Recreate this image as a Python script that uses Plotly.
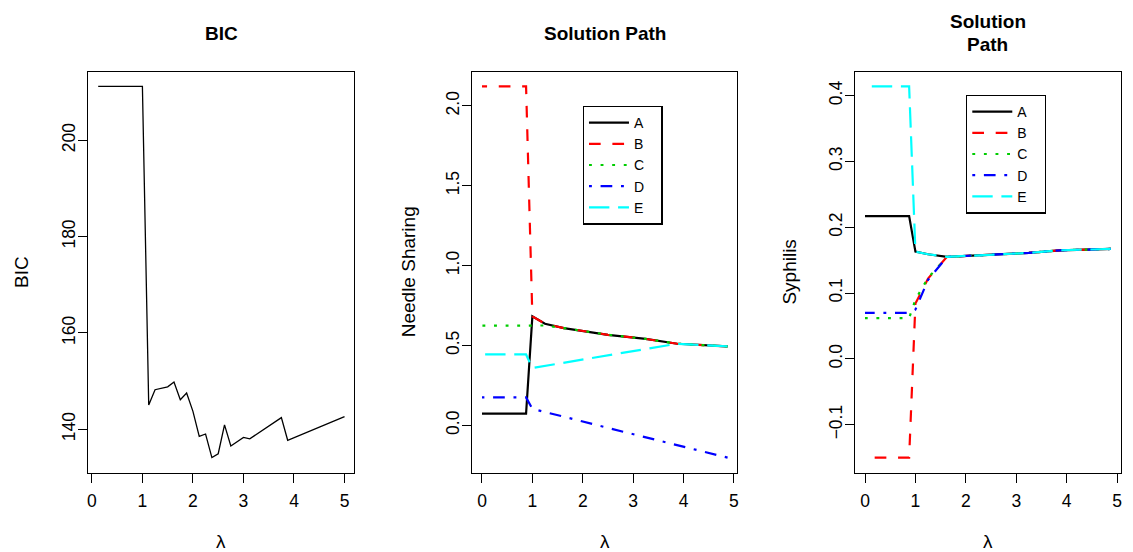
import plotly.graph_objects as go

# ---- BIC along the lambda grid ----
bic_lambda = [0.125, 1.0, 1.125, 1.25, 1.5, 1.625, 1.75, 1.875, 2.0, 2.125,
              2.25, 2.375, 2.5, 2.625, 2.75, 3.0, 3.125, 3.75, 3.875, 5.0]
bic_values = [211.2, 211.2, 145.0, 148.2, 148.8, 149.8, 146.1, 147.5, 143.7, 138.5,
              139.0, 134.1, 134.9, 140.9, 136.5, 138.3, 138.0, 142.4, 137.7, 142.6]

# ---- solution paths (shared lambda grid) ----
path_lambda = [0.0, 0.875, 1.0, 1.25, 1.625, 2.5, 3.25, 3.875, 4.875]
series_names = ["A", "B", "C", "D", "E"]

needle_A = [0.073, 0.073, 0.682, 0.636, 0.609, 0.567, 0.541, 0.511, 0.494]
needle_B = [2.122, 2.122, 0.682, 0.636, 0.609, 0.567, 0.541, 0.511, 0.494]
needle_C = [0.624, 0.624, 0.625, 0.625, 0.609, 0.567, 0.541, 0.511, 0.494]
needle_D = [0.175, 0.175, 0.103, 0.083, 0.054, -0.016, -0.075, -0.125, -0.202]
needle_E = [0.444, 0.444, 0.359, 0.372, 0.392, 0.438, 0.478, 0.511, 0.494]

syph_A = [0.217, 0.217, 0.163, 0.159, 0.155, 0.158, 0.161, 0.165, 0.167]
syph_B = [-0.150, -0.150, 0.084, 0.122, 0.155, 0.158, 0.161, 0.165, 0.167]
syph_C = [0.062, 0.062, 0.090, 0.123, 0.155, 0.158, 0.161, 0.165, 0.167]
syph_D = [0.070, 0.070, 0.075, 0.120, 0.155, 0.158, 0.161, 0.165, 0.167]
syph_E = [0.414, 0.414, 0.163, 0.159, 0.155, 0.158, 0.161, 0.165, 0.167]

x_ticks = [0, 1, 2, 3, 4, 5]

# line styles: solid, dashed, dotted, dot-dash, long-dash
colors = ["black", "#FF0000", "#00CD00", "#0000FF", "#00FFFF"]
dashes = ["solid", "11.7px,11.7px", "2.9px,8.7px", "2.9px,8.7px,11.7px,8.7px", "20.4px,8.7px"]

W, H = 1133, 552
FONT = "Liberation Sans, Arial, Helvetica, sans-serif"
PAD = "\u00a0\u00a0\u00a0"  # extra room on the right of legend labels

def px_x(v):
    return v / W

def px_y(v):
    return 1 - v / H

fig = go.Figure()

fig.add_trace(go.Scatter(x=bic_lambda, y=bic_values, mode="lines",
                         line=dict(color="black", width=1.3),
                         showlegend=False, xaxis="x", yaxis="y"))

needle = [needle_A, needle_B, needle_C, needle_D, needle_E]
syph = [syph_A, syph_B, syph_C, syph_D, syph_E]

# paths are traced from the largest lambda down to zero
for i, name in enumerate(series_names):
    fig.add_trace(go.Scatter(x=path_lambda[::-1], y=needle[i][::-1], mode="lines",
                             name=name + PAD,
                             line=dict(color=colors[i], width=2.2, dash=dashes[i]),
                             xaxis="x2", yaxis="y2", legend="legend2"))
for i, name in enumerate(series_names):
    fig.add_trace(go.Scatter(x=path_lambda[::-1], y=syph[i][::-1], mode="lines",
                             name=name + PAD,
                             line=dict(color=colors[i], width=2.2, dash=dashes[i]),
                             xaxis="x3", yaxis="y3", legend="legend3"))

y_dom = [px_y(472.5), px_y(71.5)]
panels = [
    (87.5, 354.0, [-0.07, 5.195], [131.0, 214.3], [140, 160, 180, 200], None),
    (472.0, 737.7, [-0.195, 5.07], [-0.295, 2.215], [0.0, 0.5, 1.0, 1.5, 2.0], ".1f"),
    (855.7, 1121.6, [-0.195, 5.07], [-0.1726, 0.4366], [-0.1, 0.0, 0.1, 0.2, 0.3, 0.4], ".1f"),
]

axis_common = dict(showline=True, mirror=True, linecolor="black", linewidth=1.3,
                   ticks="outside", ticklen=9, tickwidth=1.3, tickcolor="black",
                   showgrid=False, zeroline=False,
                   tickfont=dict(family=FONT, size=17.5, color="black"))

layout = dict(width=W, height=H, autosize=False,
              margin=dict(l=0, r=0, t=0, b=0),
              paper_bgcolor="white", plot_bgcolor="white",
              font=dict(family=FONT, color="black"))

for k, (x0, x1, xr, yr, yt, fmt) in enumerate(panels):
    sfx = "" if k == 0 else str(k + 1)
    xa = dict(axis_common, domain=[px_x(x0), px_x(x1)], range=xr, tickvals=x_ticks,
              anchor="y" + sfx, ticklabelstandoff=3)
    ya = dict(axis_common, domain=y_dom, range=yr, tickvals=yt, tickangle=-90,
              anchor="x" + sfx, ticklabelstandoff=-4)
    if fmt:
        ya["tickformat"] = fmt
    layout["xaxis" + sfx] = xa
    layout["yaxis" + sfx] = ya

legend_style = dict(bgcolor="white", bordercolor="black", borderwidth=1.3,
                    font=dict(family=FONT, size=14, color="black"),
                    xanchor="left", yanchor="top", itemwidth=40,
                    tracegroupgap=0)
layout["legend2"] = dict(legend_style, x=px_x(582.7), y=px_y(105.7))
layout["legend3"] = dict(legend_style, x=px_x(966.7), y=px_y(94.7))

fig.update_layout(**layout)

annotations = []
title_font = dict(family=FONT, size=19, color="black")
label_font = dict(family=FONT, size=19, color="black")
for text, xc, yc in [("<b>BIC</b>", 220.7, 33), ("<b>Solution Path</b>", 604.8, 33),
                     ("<b>Solution</b>", 988.7, 22), ("<b>Path</b>", 988.7, 44)]:
    annotations.append(dict(text=text, x=px_x(xc), y=px_y(yc), xref="paper", yref="paper",
                            showarrow=False, xanchor="center", yanchor="middle", font=title_font))
for xc in [220.7, 604.8, 988.7]:
    annotations.append(dict(text="λ", x=px_x(xc), y=px_y(541), xref="paper", yref="paper",
                            showarrow=False, xanchor="center", yanchor="middle", font=label_font))
for text, xc in [("BIC", 20), ("Needle Sharing", 408), ("Syphilis", 789)]:
    annotations.append(dict(text=text, x=px_x(xc), y=px_y(272), xref="paper", yref="paper",
                            showarrow=False, xanchor="center", yanchor="middle", textangle=-90,
                            font=label_font))
fig.update_layout(annotations=annotations)

fig.write_html("out.html")
